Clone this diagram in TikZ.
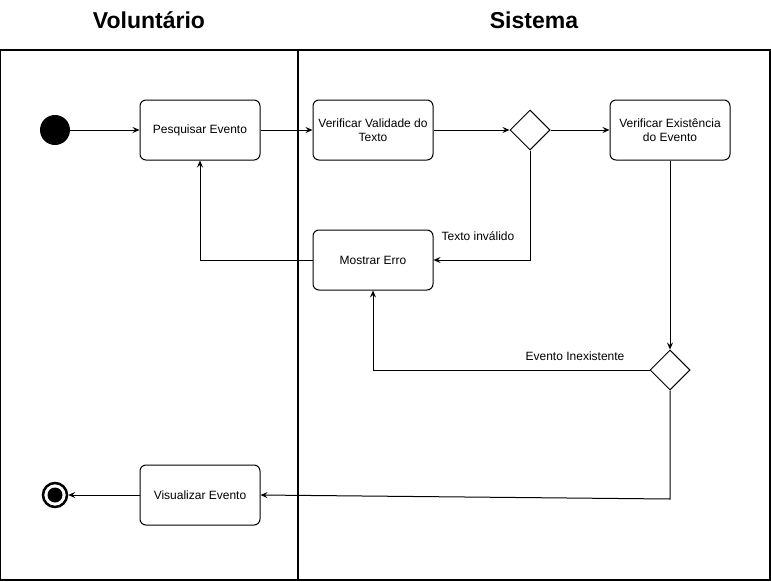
\documentclass[tikz,border=0pt]{standalone}
\usepackage{fontspec}
\setmainfont{Liberation Sans}
\usetikzlibrary{shapes.geometric,arrows.meta}
\begin{document}
\begin{tikzpicture}[x=1pt,y=-1pt,
  act/.style={draw,rounded corners=6pt,minimum width=120pt,minimum height=60pt,align=center,font=\fontsize{12}{14}\selectfont,line width=1pt,inner sep=2pt},
  dec/.style={draw,diamond,minimum width=40pt,minimum height=40pt,inner sep=0pt,line width=1pt,aspect=1},
  flow/.style={draw,line width=1pt,-{Stealth[length=7pt,width=6pt,inset=2.5pt]}},
  lbl/.style={font=\fontsize{12}{14}\selectfont},
  head/.style={font=\fontsize{23}{27}\selectfont\bfseries},
  lane/.style={draw,line width=1.2pt}]
\useasboundingbox (0,0) rectangle (771,581);
\node[head] (h1) at (149,20) {Voluntário};
\node[head] (h2) at (534,20) {Sistema};
\draw[lane] (0,50) rectangle (770,580);
\draw[lane] (298,50) -- (298,580);
\node[circle,fill=black,minimum size=30pt,inner sep=0pt] (start) at (55,130) {};
\node[act] (pesq) at (200,130) {Pesquisar Evento};
\node[act] (vval) at (373,130) {Verificar Validade do\\Texto};
\node[dec] (d1) at (530,130) {};
\node[act] (vex) at (670,130) {Verificar Existência\\do Evento};
\node[act] (erro) at (373,260) {Mostrar Erro};
\node[dec] (d2) at (670,370) {};
\node[act] (vis) at (200,495) {Visualizar Evento};
\node[circle,draw,line width=2.5pt,minimum size=24pt,inner sep=0pt] (end) at (55,495) {};
\node[circle,fill=black,minimum size=15pt,inner sep=0pt] at (end) {};
\coordinate (c1) at (670,499);
\draw[flow] (start) -- (pesq);
\draw[flow] (pesq) -- (vval);
\draw[flow] (vval) -- (d1.west);
\draw[flow] (d1.east) -- (vex);
\draw[flow] (d1.south) |- (erro.east);
\node[lbl] (l1) at (478,236) {Texto inválido};
\draw[flow] (erro.west) -| (pesq.south);
\draw[flow] (vex.south) -- (d2.north);
\draw[flow] (d2.west) -| (erro.south);
\node[lbl] (l2) at (575,356) {Evento Inexistente};
\draw[flow] (d2.south) -- (c1) -- (vis.east);
\draw[flow] (vis.west) -- (end);
\end{tikzpicture}
\end{document}
